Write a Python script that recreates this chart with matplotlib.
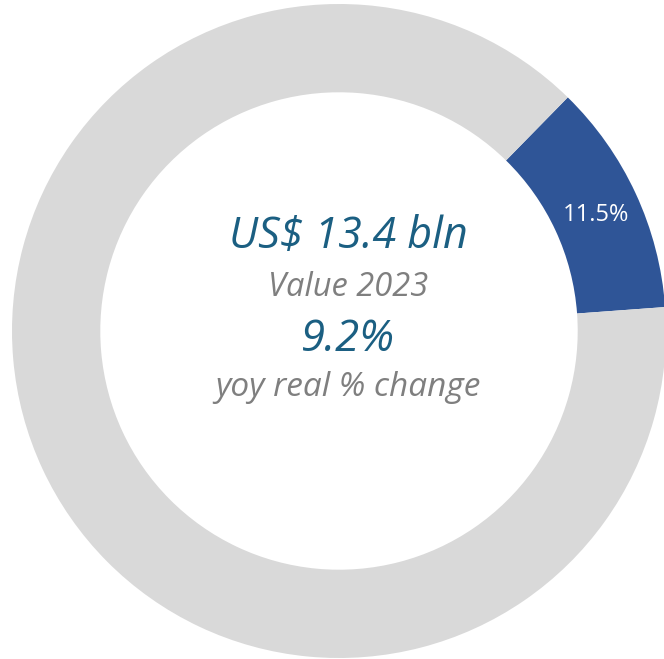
import matplotlib.pyplot as plt
import numpy as np

# ---- dados ----
shares = [11.5, 88.5]
share_labels = ["11.5%", ""]
colors = ["#2F5597", "#D9D9D9"]
headline = "US$ 13.4 bln"
headline_sub = "Value 2023"
change = "9.2%"
change_sub = "yoy real % change"

W, H = 664, 659
cx, cy, R = 339, 331, 327  # centro e raio em pixels

fig = plt.figure(figsize=(W / 100, H / 100), dpi=100)
ax = fig.add_axes([0, 0, 1, 1])

wedges, _ = ax.pie(
    shares, colors=colors, startangle=45.6, counterclock=False,
    radius=1, wedgeprops=dict(width=0.27, linewidth=0),
)
ax.set_xlim(-cx / R, (W - cx) / R)
ax.set_ylim(-(H - cy) / R, cy / R)
ax.set_aspect("auto")
ax.axis("off")

# rotulo da fatia azul no meio do anel
w = wedges[0]
ang = np.deg2rad((w.theta1 + w.theta2) / 2)
rm = 1 - 0.27 / 2
ax.text(rm * np.cos(ang), rm * np.sin(ang) - 0.01, share_labels[0], color="white",
        ha="center", va="center", fontsize=17, family="Open Sans")

def py(y):
    return (cy - y) / R

xt = (348 - cx) / R
ax.text(xt, py(237), headline, ha="center", va="center", fontsize=31,
        color="#1B5F82", style="italic", family="Open Sans")
ax.text(xt, py(287), headline_sub, ha="center", va="center", fontsize=23.5,
        color="#7F7F7F", style="italic", family="Open Sans")
ax.text(xt, py(340), change, ha="center", va="center", fontsize=31.5,
        color="#1B5F82", style="italic", family="Open Sans")
ax.text(xt, py(387), change_sub, ha="center", va="center", fontsize=24,
        color="#7F7F7F", style="italic", family="Open Sans")

plt.savefig("out.png", dpi=100, facecolor="white")
